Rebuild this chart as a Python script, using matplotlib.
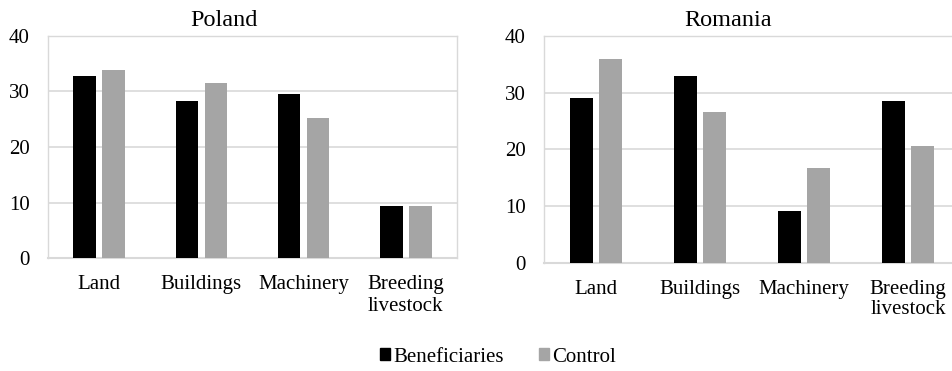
import numpy as np
import matplotlib
matplotlib.use("Agg")
import matplotlib.pyplot as plt
from matplotlib.patches import Patch

plt.rcParams['font.family'] = ['Liberation Serif', 'DejaVu Serif']

categories = ["Land", "Buildings", "Machinery", "Breeding\nlivestock"]
poland_beneficiaries = [32.8, 28.2, 29.5, 9.3]
poland_control = [33.8, 31.5, 25.2, 9.4]
romania_beneficiaries = [29.0, 33.0, 9.2, 28.6]
romania_control = [35.9, 26.6, 16.7, 20.7]

BLACK = "#000000"
GRAY = "#a5a5a5"
GRID = "#d9d9d9"
FS = 15

fig = plt.figure(figsize=(9.53, 3.71), dpi=100)


def panel(rect, title, title_x, benef, ctrl, lsp):
    ax = fig.add_axes(rect)
    x = np.arange(len(categories))
    w = 0.22
    ax.bar(x - 0.143, benef, w, color=BLACK, zorder=3)
    ax.bar(x + 0.143, ctrl, w, color=GRAY, zorder=3)
    ax.set_xlim(-0.5, len(categories) - 0.5)
    ax.set_ylim(0, 40)
    ax.set_yticks([0, 10, 20, 30, 40])
    ax.set_xticks(x)
    ax.set_xticklabels(categories, fontsize=FS, linespacing=lsp)
    ax.tick_params(axis='y', labelsize=FS, length=0, pad=13)
    ax.tick_params(axis='x', length=0, pad=12)
    ax.grid(axis='y', color=GRID, linewidth=1.2, zorder=0)
    for s in ax.spines.values():
        s.set_color(GRID)
        s.set_linewidth(1.0)
    ax.spines['bottom'].set_linewidth(1.5)
    fig.text(title_x, 1 - 20 / 371, title, fontsize=17.5,
             ha='center', va='center')
    return ax


panel([48 / 953, (371 - 258) / 371, 409 / 953, 222 / 371],
      "Poland", 224 / 953, poland_beneficiaries, poland_control, 1.25)
panel([544 / 953, (371 - 263) / 371, 416 / 953, 227 / 371],
      "Romania", 728 / 953, romania_beneficiaries, romania_control, 1.12)

handles = [Patch(color=BLACK, label="Beneficiaries"),
           Patch(color=GRAY, label="Control")]
fig.legend(handles=handles, loc='center', bbox_to_anchor=(498 / 953, 1 - 357 / 371),
           ncol=2, frameon=False, fontsize=FS, handlelength=0.5,
           handleheight=0.5, handletextpad=0.15, columnspacing=1.7)

fig.savefig("out.png", dpi=100)
